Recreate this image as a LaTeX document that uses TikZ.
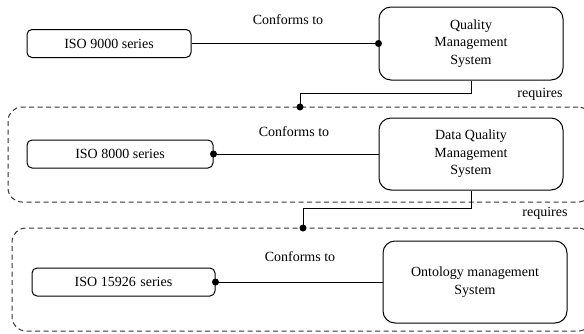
\documentclass[tikz,border=0pt]{standalone}
\usepackage{fontspec}
\setmainfont{Liberation Serif}
\begin{document}
\begin{tikzpicture}[x=1pt,y=-1pt,
  every node/.style={font=\fontsize{14}{17.5}\selectfont, text=black},
  smallbox/.style={draw, line width=1pt, rounded corners=5pt, minimum height=28pt, inner sep=0pt},
  bigbox/.style={draw, line width=1pt, rounded corners=12pt, align=center, inner sep=0pt, minimum width=184pt},
  grpbox/.style={draw=black!80, line width=1pt, dash pattern=on 5pt off 3.5pt, rounded corners=14pt, inner sep=0pt},
  link/.style={draw, line width=1pt},
  dotc/.style={fill=black, circle, inner sep=0pt, minimum size=7pt},
  lbl/.style={inner sep=0pt}]
\useasboundingbox (0,0) rectangle (584,333);
\clip (0,0) rectangle (584,333);
% groups
\node[grpbox, minimum width=584pt, minimum height=95pt] (grp1) at (300,154.5) {};
\node[grpbox, minimum width=580pt, minimum height=103pt] (grp2) at (302,279.5) {};
% boxes
\node[smallbox, minimum width=164pt] (iso9000) at (109,43.5) {ISO 9000 series};
\node[bigbox, minimum height=73pt] (qms) at (471,43.5) {Quality\\Management\\System};
\node[smallbox, minimum width=186pt] (iso8000) at (120,154) {ISO 8000 series};
\node[bigbox, minimum height=72pt] (dqms) at (471,154) {Data Quality\\Management\\System};
\node[smallbox, minimum width=183pt] (iso15926) at (123.5,282) {ISO 15926\,\,series};
\node[bigbox, minimum height=82pt] (onto) at (475,282) {Ontology management\\System};
% labels
\node[lbl] (c1) at (288,20) {Conforms to};
\node[lbl] (c2) at (294,132) {Conforms to};
\node[lbl] (c3) at (300,257) {Conforms to};
\node[lbl] (r1) at (540,94) {requires};
\node[lbl] (r2) at (545,213) {requires};
% conforms connectors
\draw[link] (iso9000.east) -- (qms.west);
\node[dotc] (d1) at (qms.west) {};
\draw[link] (iso8000.east) -- (dqms.west);
\node[dotc] (d2) at (iso8000.east) {};
\draw[link] (iso15926.east) -- (onto.west);
\node[dotc] (d3) at (iso15926.east) {};
% requires connectors
\coordinate (g1in) at (300,107);
\coordinate (g2in) at (303,228);
\draw[link] (qms.south) -- (qms.south |- 0,93) -| (g1in);
\node[dotc] (d4) at (g1in) {};
\draw[link] (dqms.south) -- (dqms.south |- 0,208) -| (g2in);
\node[dotc] (d5) at (g2in) {};
\end{tikzpicture}
\end{document}
